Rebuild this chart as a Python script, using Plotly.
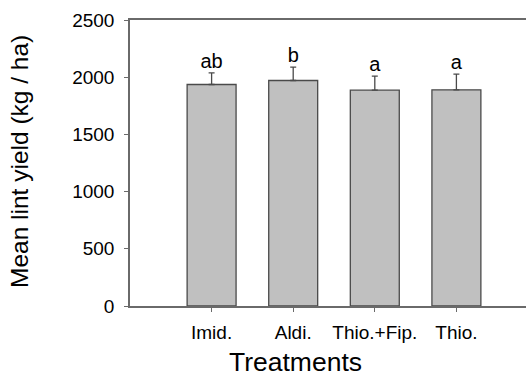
import plotly.graph_objects as go

treatments = ["Imid.", "Aldi.", "Thio.+Fip.", "Thio."]
mean_yield = [1936, 1971, 1887, 1890]
se_yield = [102, 117, 123, 137]
letters = ["ab", "b", "a", "a"]
y_ticks = [0, 500, 1000, 1500, 2000, 2500]

FONT = "Liberation Sans, Arial, sans-serif"
AX = "#6a6a6a"

fig = go.Figure()
fig.add_trace(go.Bar(
    x=treatments, y=mean_yield, width=0.6,
    marker=dict(color="#c0c0c0", line=dict(color="#4a4a4a", width=1.3)),
    error_y=dict(type="data", symmetric=False, array=se_yield,
                 arrayminus=[0] * len(se_yield), color="#4a4a4a",
                 thickness=1.3, width=3),
    showlegend=False, hoverinfo="skip",
))
fig.add_trace(go.Scatter(
    x=treatments, y=[m + s for m, s in zip(mean_yield, se_yield)],
    mode="text", text=letters, textposition="top center",
    textfont=dict(family=FONT, size=20, color="black"),
    showlegend=False, hoverinfo="skip",
))
fig.update_layout(
    width=526, height=378,
    margin=dict(l=130, r=0, t=20, b=72),
    plot_bgcolor="white", paper_bgcolor="white",
    font=dict(family=FONT, color="black"),
    bargap=0.4,
)
fig.update_xaxes(
    type="category", range=[-1.0, 3.853],
    showline=True, linecolor=AX, linewidth=1.5, mirror=True,
    ticks="outside", ticklen=4, tickcolor=AX, tickwidth=1,
    tickfont=dict(family=FONT, size=19, color="black"),
    ticklabelstandoff=4, showgrid=False, zeroline=False,
)
fig.update_yaxes(
    range=[0, 2500], tickvals=y_ticks,
    showline=True, linecolor=AX, linewidth=1.5,
    ticks="outside", ticklen=4, tickcolor=AX, tickwidth=1,
    tickfont=dict(family=FONT, size=19, color="black"),
    ticklabelstandoff=6, showgrid=False, zeroline=False,
)
fig.add_annotation(
    text="Mean lint yield (kg / ha)", xref="paper", yref="paper",
    x=(19 - 130) / 396, y=(306 - 162) / 286, textangle=-90,
    xanchor="center", yanchor="middle", showarrow=False,
    font=dict(family=FONT, size=24.5, color="black"),
)
fig.add_annotation(
    text="Treatments", xref="paper", yref="paper", x=(295 - 130) / 396, y=-0.195,
    xanchor="center", yanchor="middle", showarrow=False,
    font=dict(family=FONT, size=26.5, color="black"),
)
fig.write_html("out.html", config={"displayModeBar": False},
               post_script="document.body.style.margin='0';document.body.style.overflow='hidden';")
